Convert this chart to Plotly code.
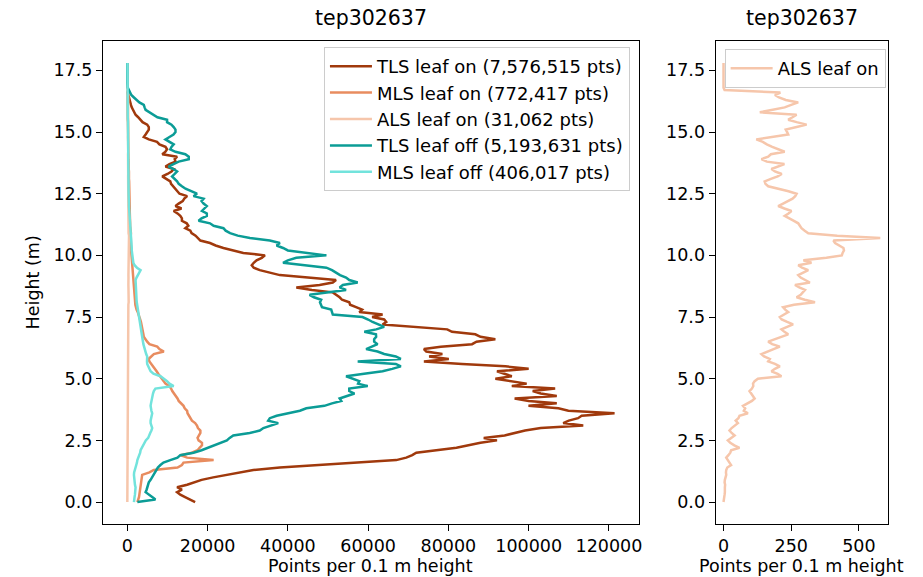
import numpy as np
import plotly.graph_objects as go

# Height bins (m), 0.1 m resolution
heights = np.round(np.arange(0, 17.85, 0.1), 1)

# Points per 0.1 m height bin
tls_leaf_on = [
    16900, 15500, 14400, 13200, 12400, 13600, 12400, 14900, 16500, 18500,
    21400, 24800, 28000, 31400, 38000, 47100, 58000, 67000, 69500, 71000,
    72000, 76800, 82000, 85000, 88000, 92100, 88800, 94000, 96500, 99100,
    103000, 113600, 108600, 110000, 112300, 113200, 121400, 109900, 107400, 99950,
    107000, 100000, 96500, 107000, 103000, 101000, 106600, 95800, 99500, 95000,
    91700, 95800, 94000, 92100, 100000, 94200, 83400, 73900, 80100, 75200,
    78500, 74500, 73900, 78100, 85900, 87000, 91700, 88000, 86700, 80900,
    79700, 71900, 63600, 64500, 64000, 61000, 63600, 57800, 58500, 57000,
    55500, 55300, 53500, 52900, 52000, 51200, 46000, 42100, 47900, 51200,
    52000, 45400, 38000, 35500, 33000, 31500, 31000, 31500, 32200, 33500,
    34300, 28900, 26000, 23950, 22000, 20600, 18200, 17500, 17000, 16000,
    15700, 14450, 15200, 14800, 13600, 13600, 13200, 12500, 11550, 13500,
    12000, 12800, 13800, 14200, 14900, 13000, 12500, 11800, 11500, 10900,
    10700, 9500, 8700, 10000, 11000, 11550, 9500, 10500, 12000, 11800,
    12400, 8700, 9500, 9900, 9500, 8000, 7400, 5350, 4100, 4550,
    5000, 5350, 5350, 4950, 3800, 3300, 2700, 2050, 1700, 1400,
    1100, 900, 700, 500, 400, 200, 100, 0, 0, 0,
    0, 0, 0, 0, 0, 0, 0, 0, 0,
]

mls_leaf_on = [
    2500, 2800, 2900, 3000, 3100, 3200, 3300, 3300, 3500, 3600,
    3700, 3700, 5500, 6600, 12500, 13600, 14000, 21500, 14900, 13200,
    16100, 17500, 18000, 18600, 18600, 17750, 17500, 17900, 18200, 18200,
    17600, 17350, 16900, 16100, 15700, 15500, 15000, 14900, 14300, 14000,
    13300, 12800, 12500, 12000, 11500, 11200, 10900, 10500, 9500, 9000,
    8500, 8000, 7700, 7300, 6800, 6300, 5800, 5500, 5300, 6000,
    6600, 9100, 8000, 7450, 5500, 4950, 4500, 4100, 4000, 3900,
    3800, 3700, 3600, 3400, 3200, 3000, 2900, 2600, 2300, 2050,
    2000, 1950, 1900, 1850, 1800, 1750, 1650, 1600, 1500, 1450,
    1400, 1350, 1300, 1250, 1200, 1150, 1100, 1050, 1050, 1000,
    1000, 950, 950, 900, 900, 850, 850, 800, 850, 900,
    800, 750, 700, 700, 650, 650, 600, 650, 600, 600,
    600, 550, 550, 500, 550, 500, 500, 450, 500, 450,
    450, 400, 450, 400, 400, 350, 400, 350, 350, 300,
    300, 300, 250, 300, 250, 250, 200, 250, 200, 200,
    200, 150, 200, 150, 150, 100, 100, 100, 50, 50,
    50, 50, 0, 0, 0, 0, 0, 0, 0, 0,
    0, 0, 0, 0, 0, 0, 0, 0, 0,
]

als_leaf_on = [
    0, 2, 3, 4, 5, 4, 5, 6, 4, 5,
    8, 10, 9, 10, 14, 28, 22, 15, 10, 18,
    25, 28, 59, 40, 25, 16, 30, 41, 30, 22,
    30, 40, 53, 45, 55, 59, 90, 75, 80, 72,
    90, 105, 115, 108, 100, 96, 105, 110, 109, 115,
    127, 214, 200, 177, 190, 208, 190, 165, 171, 150,
    140, 160, 185, 208, 180, 165, 190, 220, 239, 225,
    214, 235, 257, 235, 215, 208, 225, 239, 228, 220,
    260, 338, 300, 270, 285, 295, 301, 280, 264, 319,
    300, 285, 276, 295, 313, 290, 276, 325, 295, 380,
    437, 440, 445, 443, 425, 412, 406, 579, 420, 313,
    300, 288, 282, 276, 260, 240, 226, 240, 251, 225,
    202, 220, 240, 255, 265, 270, 240, 200, 165, 155,
    152, 175, 200, 215, 190, 177, 205, 225, 160, 140,
    165, 175, 226, 200, 180, 160, 145, 121, 180, 239,
    235, 230, 270, 307, 270, 239, 255, 270, 134, 180,
    226, 250, 276, 230, 205, 190, 210, 4, 0, 0,
    0, 0, 0, 0, 0, 0, 0, 0, 0,
]

tls_leaf_off = [
    2500, 7000, 6200, 5500, 4550, 4800, 5000, 5200, 5350, 5800,
    6200, 6600, 7000, 7400, 7600, 8250, 9000, 10700, 12500, 13200,
    16500, 18500, 20000, 21500, 23000, 24800, 25500, 26400, 30500, 33000,
    33900, 36000, 37600, 35100, 35500, 37200, 40000, 43000, 44600, 49100,
    51000, 53300, 52900, 55000, 56600, 55300, 55300, 59900, 57500, 57800,
    56000, 54500, 59000, 63600, 66000, 68150, 66900, 57400, 68150, 66900,
    64000, 62350, 59500, 61000, 62350, 61500, 61500, 62000, 61950, 59050,
    62000, 64000, 62500, 61100, 60000, 58600, 51200, 51000, 50800, 48500,
    48300, 48000, 48300, 46500, 45400, 50000, 54500, 52900, 53700, 57400,
    55300, 54500, 53000, 52000, 51000, 49600, 43800, 38800, 40000, 42100,
    49600, 45400, 40000, 38800, 37200, 38000, 35500, 30550, 27500, 25600,
    24500, 23950, 21500, 20600, 17750, 18500, 19800, 19800, 18600, 19200,
    19800, 19000, 18500, 19000, 16500, 17350, 15700, 14500, 13600, 12800,
    12400, 11800, 11150, 11800, 12400, 11500, 10300, 11500, 12800, 15300,
    15300, 14450, 12000, 10700, 11000, 11550, 10500, 9500, 10500, 11500,
    12000, 12000, 11550, 11000, 9900, 9900, 7500, 6600, 5500, 4550,
    4300, 4100, 3000, 2200, 1650, 1000, 600, 400, 100, 0,
    0, 0, 0, 0, 0, 0, 0, 0, 0,
]

mls_leaf_off = [
    1650, 1650, 1800, 1900, 2000, 2050, 2050, 1900, 1800, 1700,
    1650, 1650, 1700, 1900, 2100, 2300, 2400, 2500, 2800, 3000,
    3200, 3300, 3600, 3900, 4100, 4600, 5200, 5400, 5700, 6000,
    6200, 6000, 5800, 5800, 5900, 6100, 6200, 6000, 5900, 5800,
    5900, 6000, 6200, 6200, 6400, 6600, 7000, 11550, 10500, 9900,
    9000, 8250, 6500, 5800, 5500, 5200, 4950, 4900, 4950, 4950,
    4700, 4500, 4300, 4100, 4000, 3900, 3800, 3700, 3600, 3500,
    3400, 3300, 3100, 3000, 2900, 2800, 2700, 2600, 2500, 2450,
    2400, 2350, 2300, 2250, 2200, 2150, 2100, 2100, 2050, 2050,
    2050, 2300, 2600, 3000, 3300, 2400, 1800, 1500, 1400, 1250,
    1200, 1150, 1100, 1100, 1050, 1000, 1000, 950, 900, 850,
    800, 750, 700, 650, 600, 600, 550, 500, 450, 450,
    400, 400, 350, 350, 350, 300, 300, 300, 300, 300,
    300, 250, 250, 250, 250, 250, 250, 250, 200, 200,
    200, 200, 200, 200, 200, 200, 200, 150, 150, 150,
    150, 150, 150, 150, 150, 150, 100, 100, 100, 100,
    100, 100, 100, 100, 100, 100, 100, 100, 100, 100,
    100, 100, 100, 50, 50, 50, 50, 50, 50,
]

series = [
    ("TLS leaf on (7,576,515 pts)", tls_leaf_on, "#a0390c"),
    ("MLS leaf on (772,417 pts)", mls_leaf_on, "#e88c5f"),
    ("ALS leaf on (31,062 pts)", als_leaf_on, "#f6c6ab"),
    ("TLS leaf off (5,193,631 pts)", tls_leaf_off, "#0b9c96"),
    ("MLS leaf off (406,017 pts)", mls_leaf_off, "#72e3dc"),
]

FONT = "DejaVu Sans"
FS = 17.5
LEG_FS = 18
W, H = 923, 577

fig = go.Figure()
for i, (name, vals, color) in enumerate(series):
    fig.add_trace(go.Scatter(
        x=vals, y=heights, mode="lines", name=name,
        line=dict(color=color, width=2.5),
        xaxis="x", yaxis="y", legend="legend", legendgroup=f"g{i}",
    ))

fig.add_trace(go.Scatter(
    x=als_leaf_on, y=heights, mode="lines", name="ALS leaf on",
    line=dict(color="#f6c6ab", width=2.5),
    xaxis="x2", yaxis="y2", legend="legend2",
))

axis_common = dict(
    showgrid=False, zeroline=False, showline=True, mirror=True,
    linecolor="black", linewidth=1.2, ticks="outside", ticklen=6,
    tickwidth=1.2, tickcolor="black",
    tickfont=dict(family=FONT, size=FS, color="black"),
)

y_dom = [1 - 524 / H, 1 - 41 / H]
fig.update_layout(
    width=W, height=H,
    margin=dict(l=0, r=0, t=0, b=0),
    paper_bgcolor="white", plot_bgcolor="white",
    font=dict(family=FONT, size=FS, color="black"),
    xaxis=dict(domain=[103.3 / W, 641 / W], range=[-6070, 127470],
               tickvals=[0, 20000, 40000, 60000, 80000, 100000, 120000],
               tickformat="d", anchor="y", **axis_common),
    yaxis=dict(domain=y_dom, range=[-0.89, 18.69], dtick=2.5, tick0=0,
               tickformat=".1f", anchor="x", **axis_common),
    xaxis2=dict(domain=[718 / W, 891 / W], range=[-29, 608],
                tickvals=[0, 250, 500], anchor="y2", **axis_common),
    yaxis2=dict(domain=y_dom, range=[-0.89, 18.69], dtick=2.5, tick0=0,
                tickformat=".1f", anchor="x2", **axis_common),
    legend=dict(
        x=632 / W, xanchor="right", y=1 - 47 / H, yanchor="top",
        bgcolor="rgba(255,255,255,0.8)", bordercolor="#cccccc", borderwidth=1,
        font=dict(family=FONT, size=LEG_FS, color="black"),
        tracegroupgap=0, traceorder="normal", itemwidth=42,
    ),
    legend2=dict(
        x=727 / W, xanchor="left", y=1 - 49 / H, yanchor="top",
        bgcolor="rgba(255,255,255,0.8)", bordercolor="#cccccc", borderwidth=1,
        font=dict(family=FONT, size=LEG_FS, color="black"),
        itemwidth=42,
    ),
    showlegend=True,
)

annotations = [
    dict(text="tep302637", x=(103.3 + 641) / 2 / W, y=1 - 18 / H,
         font=dict(size=20.5)),
    dict(text="tep302637", x=(718 + 891) / 2 / W, y=1 - 18 / H,
         font=dict(size=20.5)),
    dict(text="Points per 0.1 m height", x=(103.3 + 641) / 2 / W,
         y=1 - 566 / H, font=dict(size=FS)),
    dict(text="Points per 0.1 m height", x=(718 + 891) / 2 / W,
         y=1 - 566 / H, font=dict(size=FS)),
    dict(text="Height (m)", x=33 / W, y=1 - 282.5 / H, textangle=-90,
         font=dict(size=FS)),
]
for a in annotations:
    fig.add_annotation(xref="paper", yref="paper", showarrow=False,
                       xanchor="center", yanchor="middle",
                       font_family=FONT, font_color="black", **a)

fig.write_html("out.html", config={"displayModeBar": False})
